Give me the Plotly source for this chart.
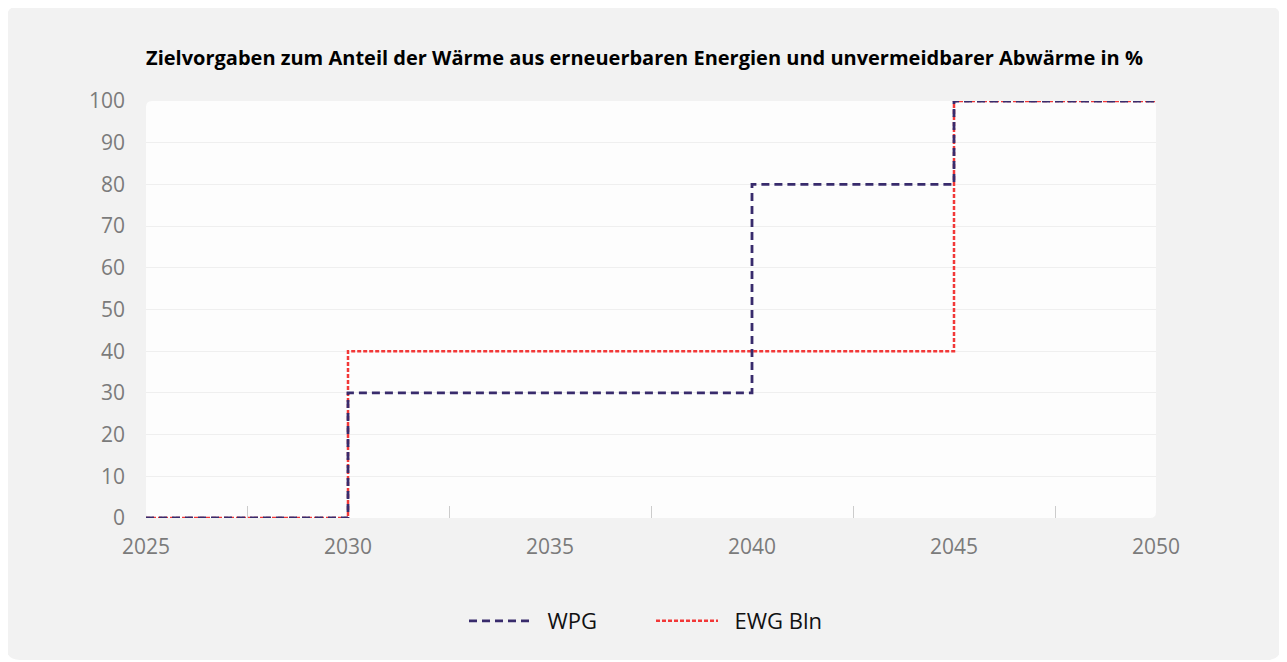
import plotly.graph_objects as go

years_wpg = [2025, 2030, 2040, 2045, 2050]
wpg = [0, 30, 80, 100, 100]
years_ewg = [2025, 2030, 2045, 2050]
ewg = [0, 40, 100, 100]
x_ticks = [2025, 2030, 2035, 2040, 2045, 2050]
y_ticks = list(range(0, 101, 10))

title = "Zielvorgaben zum Anteil der Wärme aus erneuerbaren Energien und unvermeidbarer Abwärme in %"

fig = go.Figure()
fig.add_trace(go.Scatter(x=years_ewg, y=ewg, name="\u00a0\u00a0EWG Bln", mode="lines", line_shape="hv",
                         legendrank=2,
                         line=dict(color="#f23838", width=2.5, dash="4px,2px"), cliponaxis=False))
fig.add_trace(go.Scatter(x=years_wpg, y=wpg, name="\u00a0\u00a0WPG", mode="lines", line_shape="hv",
                         legendrank=1,
                         line=dict(color="#382b6c", width=2.8, dash="8px,5px"), cliponaxis=False))

# figure is placed at (8,8) by the page margin
OX, OY = 8, 8
W, H = 1273, 652
PL, PR, PT, PB = 146, 1156, 101, 518  # plot area in page pixels
ml, mr, mt, mb = PL - OX, (OX + W) - PR, PT - OY, (OY + H) - PB
pw, ph = W - ml - mr, H - mt - mb


def fx(x):  # page px -> paper x
    return (x - PL) / pw


def fy(y):  # page px -> paper y
    return (PB - y) / ph


def rounded(x0, y0, x1, y1, r):
    a, b, c, d = fx(x0), fx(x1), fy(y0), fy(y1)
    ax, bx = fx(x0 + r), fx(x1 - r)
    cy, dy = fy(y0 + r), fy(y1 - r)
    return (f"M{ax},{c} L{bx},{c} Q{b},{c} {b},{cy} L{b},{dy} Q{b},{d} {bx},{d} "
            f"L{ax},{d} Q{a},{d} {a},{dy} L{a},{cy} Q{a},{c} {ax},{c} Z")


fig.add_shape(type="path", xref="paper", yref="paper", path=rounded(6, 6, 1281, 660, 14),
              fillcolor="#f2f2f2", line=dict(width=0), layer="below")
fig.add_shape(type="path", xref="paper", yref="paper", path=rounded(PL, PT, PR, PB, 6),
              fillcolor="#fdfdfd", line=dict(width=0), layer="below")

fig.update_layout(
    width=W, height=H,
    paper_bgcolor="#ffffff", plot_bgcolor="rgba(0,0,0,0)",
    margin=dict(l=ml, r=mr, t=mt, b=mb),
    font=dict(family="Open Sans", size=21, color="#7b7b7b"),
    title=dict(text=f"<b>{title}</b>", x=0.5, xanchor="center", y=1 - (58 - OY) / H, yanchor="middle",
               font=dict(family="Open Sans", size=20, color="#000000")),
    showlegend=True,
    legend=dict(orientation="h", x=0.5, xanchor="center", y=1 - (621 - OY) / H, yref="container",
                yanchor="middle", font=dict(color="#111111", size=22), itemwidth=62,
                entrywidth=110, bgcolor="rgba(0,0,0,0)"),
    xaxis=dict(range=[2025, 2050], tickvals=x_ticks, showgrid=False, zeroline=False, showline=False,
               ticks="", ticklabelstandoff=14,
               minor=dict(tickmode="array", tickvals=[2027.5, 2032.5, 2037.5, 2042.5, 2047.5],
                          ticks="inside", ticklen=12, tickcolor="#cccccc", tickwidth=1, showgrid=False)),
    yaxis=dict(range=[0, 100], tickvals=y_ticks, showgrid=True, gridcolor="#efefef", zeroline=False,
               showline=False, ticks="", ticklabelstandoff=20),
)
fig.write_html("out.html")
